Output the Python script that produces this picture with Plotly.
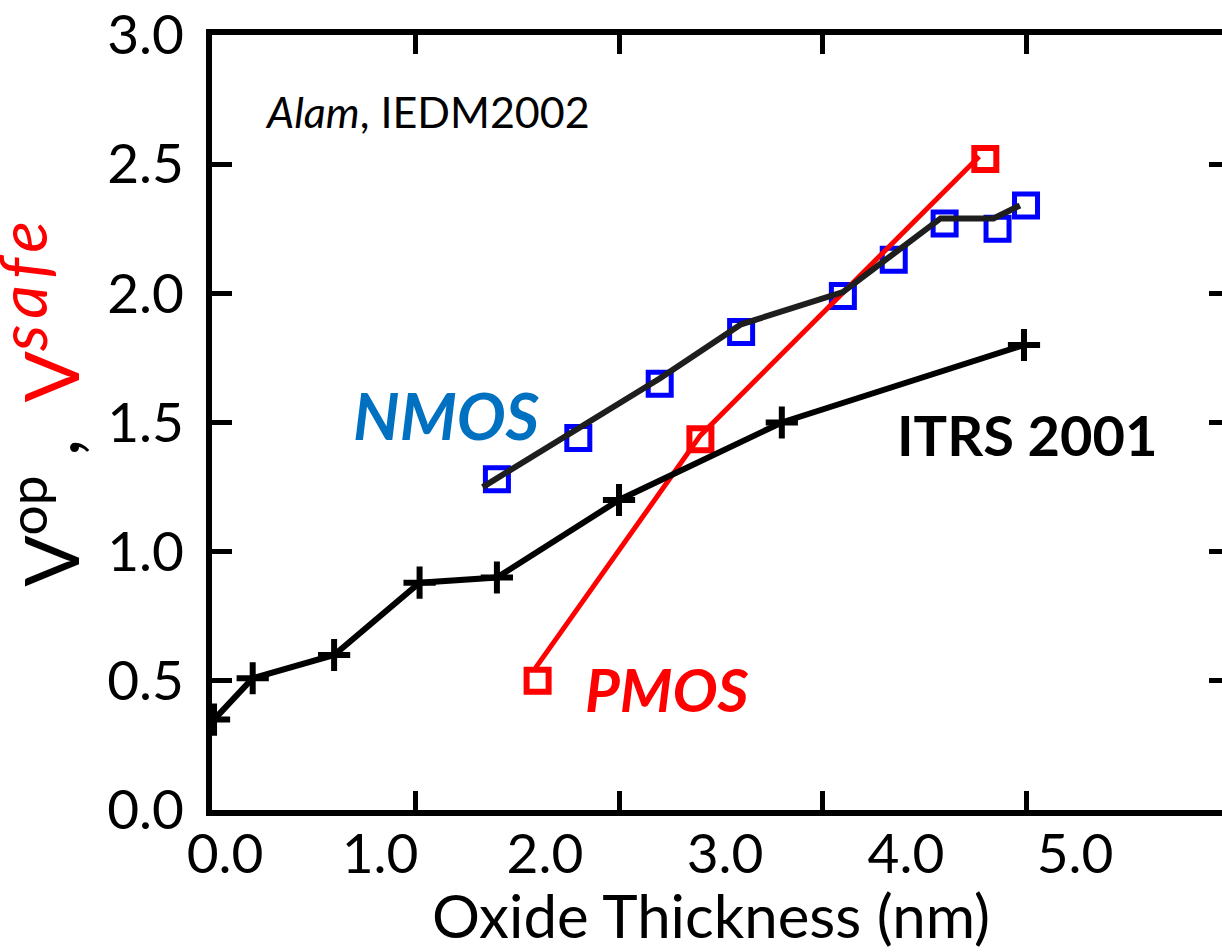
import plotly.graph_objects as go

# ---- data (x in axis tick units, y in volts) ----
itrs_x = [0.01, 0.2, 0.6, 1.02, 1.4, 2.0, 2.8, 3.99]
itrs_y = [0.35, 0.51, 0.6, 0.88, 0.9, 1.2, 1.5, 1.8]

nmos_x = [1.40, 1.80, 2.20, 2.60, 3.10, 3.35, 3.60, 3.86, 4.00]
nmos_y = [1.28, 1.44, 1.65, 1.85, 1.99, 2.13, 2.27, 2.25, 2.34]
nmos_fit_x = [1.33, 2.20, 2.60, 3.10, 3.58, 3.84, 3.97]
nmos_fit_y = [1.25, 1.67, 1.88, 2.005, 2.29, 2.29, 2.34]

pmos_x = [1.60, 2.40, 3.80]
pmos_y = [0.50, 1.435, 2.52]
pmos_fit_x = [1.59, 2.40, 3.77]
pmos_fit_y = [0.55, 1.45, 2.53]

x_label_pos = [0.064, 0.826, 1.636, 2.521, 3.41, 4.241]
x_label_text = ["0.0", "1.0", "2.0", "3.0", "4.0", "5.0"]
x_tick_marks = [1, 2, 3, 4]
y_ticks = [0.0, 0.5, 1.0, 1.5, 2.0, 2.5, 3.0]

FONT = "Lato"
W, H = 1222, 952
L, R, T, B = 212, 0, 32, 142
XR = [0, 4.963]
YR = [0, 3]

fig = go.Figure()
fig.add_trace(go.Scatter(x=nmos_x, y=nmos_y, mode="markers",
                         marker=dict(symbol="square-open", size=23, color="#0000ff",
                                     line=dict(width=5, color="#0000ff"))))
fig.add_trace(go.Scatter(x=pmos_fit_x, y=pmos_fit_y, mode="lines",
                         line=dict(color="#ff0000", width=5)))
fig.add_trace(go.Scatter(x=pmos_x, y=pmos_y, mode="markers",
                         marker=dict(symbol="square-open", size=22, color="#ff0000",
                                     line=dict(width=6, color="#ff0000"))))
fig.add_trace(go.Scatter(x=itrs_x, y=itrs_y, mode="lines+markers",
                         line=dict(color="black", width=6),
                         marker=dict(symbol="cross-thin", size=23, color="black",
                                     line=dict(width=6, color="black"))))
fig.add_trace(go.Scatter(x=nmos_fit_x, y=nmos_fit_y, mode="lines",
                         line=dict(color="#1e1e1e", width=6)))
# empty trace so the overlay axes (labels / right ticks) get drawn
fig.add_trace(go.Scatter(x=[None], y=[None], xaxis="x2", yaxis="y2",
                         mode="markers", hoverinfo="skip", showlegend=False))

def px2paper_x(px):
    return (px - L) / (W - L - R)

def px2paper_y(py):
    return (H - B - py) / (H - B - T)

fig.update_layout(
    width=W, height=H,
    margin=dict(l=L, r=R, t=T, b=B),
    paper_bgcolor="white", plot_bgcolor="white",
    showlegend=False,
    font=dict(family=FONT, color="black"),
    xaxis=dict(range=XR, tickmode="array", tickvals=x_tick_marks,
               showticklabels=False, ticks="inside", ticklen=19, tickwidth=5,
               tickcolor="black", showline=True, linecolor="black",
               linewidth=6, mirror="ticks", showgrid=False, zeroline=False),
    xaxis2=dict(range=XR, overlaying="x", anchor="y", side="bottom",
                tickmode="array", tickvals=x_label_pos, ticktext=x_label_text,
                ticks="", showline=False, showgrid=False, zeroline=False,
                tickfont=dict(size=55, family=FONT), ticklabelstandoff=7,
                ticklabeloverflow="allow"),
    yaxis=dict(range=YR, tickmode="array", tickvals=y_ticks,
               ticktext=[f"{v:.1f}" for v in y_ticks], ticks="inside", ticklen=20,
               tickwidth=5, tickcolor="black", showline=True, linecolor="black",
               linewidth=6, mirror=False, showgrid=False, zeroline=False,
               tickfont=dict(size=55, family=FONT), ticklabelstandoff=11,
               ticklabeloverflow="allow"),
    yaxis2=dict(range=YR, overlaying="y", anchor="x", side="right",
                tickmode="array", tickvals=y_ticks, showticklabels=False,
                ticks="inside", ticklen=13, tickwidth=5, tickcolor="black",
                showline=False, showgrid=False, zeroline=False),
)

fig.add_annotation(x=0.25, y=2.703, xref="x", yref="y", xanchor="left", yanchor="middle",
                   text="<i>Alam</i>, IEDM2002", showarrow=False,
                   font=dict(size=43, family=FONT, color="black"))
fig.add_annotation(x=1.15, y=1.53, xref="x", yref="y", xanchor="center", yanchor="middle",
                   text="<b><i>NMOS</i></b>", showarrow=False,
                   font=dict(size=65, family=FONT, color="#0070c0"))
fig.add_annotation(x=2.236, y=0.47, xref="x", yref="y", xanchor="center", yanchor="middle",
                   text="<b><i>PMOS</i></b>", showarrow=False,
                   font=dict(size=60, family=FONT, color="#ff0000"))
fig.add_annotation(x=4.005, y=1.454, xref="x", yref="y", xanchor="center", yanchor="middle",
                   text="<b>ITRS 2001</b>", showarrow=False,
                   font=dict(size=56, family=FONT, color="black"))
fig.add_annotation(x=px2paper_x(711), y=px2paper_y(915), xref="paper", yref="paper",
                   xanchor="center", yanchor="middle",
                   text="Oxide Thickness (nm)", showarrow=False,
                   font=dict(size=60, family=FONT, color="black"))
fig.add_annotation(x=px2paper_x(39), y=px2paper_y(588), xref="paper", yref="paper",
                   xanchor="center", yanchor="bottom", textangle=-90,
                   text=("V<sup>op</sup> ,  <span style='color:#ff0000'>V<sup><i>"
                         "<span style='font-size:66px;letter-spacing:6px'>safe</span>"
                         "</i></sup></span>"),
                   showarrow=False, font=dict(size=76, family=FONT, color="black"))

fig.write_html("out.html")
